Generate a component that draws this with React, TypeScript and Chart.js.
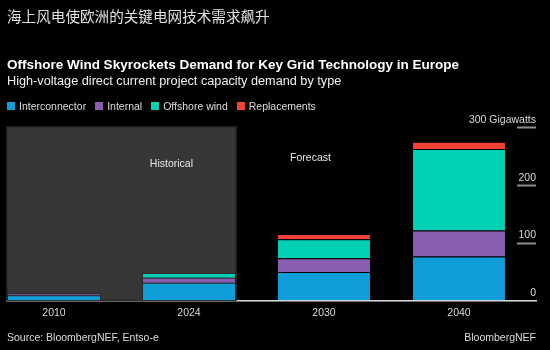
import React, { useEffect, useRef } from "react";
import { Chart, registerables } from "chart.js";
Chart.register(...registerables);

const categories = ["2010", "2024", "2030", "2040"];
const interconnector = [9, 30.5, 49, 76];
const internal = [3.5, 8.5, 24, 45];
const offshoreWind = [0, 8.5, 33, 141];
const replacements = [0, 0, 9, 12.5];
const seriesNames = ["Interconnector", "Internal", "Offshore wind", "Replacements"];
const seriesColors = ["#0f9ed8", "#895db1", "#00d1b4", "#ee4336"];
const seriesValues = [interconnector, internal, offshoreWind, replacements];
const yTickValues = [0, 100, 200, 300];
const yUnitLabel = "300 Gigawatts";
const historicalCount = 2;
const annotationTexts = ["Historical", "Forecast"];
const annotationX = [0.87, 1.9];
const annotationY = [235, 247];

const FONT = "'Liberation Sans', Arial, sans-serif";

const customPlugin = {
  id: "bnefDecor",
  beforeDatasetsDraw(chart: any) {
    const { ctx, chartArea, scales } = chart;
    const y = scales.y;
    const bar = chart.getDatasetMeta(0).data[historicalCount - 1];
    const right = bar.x + bar.width / 2;
    const top = y.getPixelForValue(300);
    const bottom = y.getPixelForValue(0);
    ctx.save();
    ctx.fillStyle = "#363636";
    ctx.fillRect(chartArea.left, top, right - chartArea.left, bottom - top);
    ctx.strokeStyle = "#2a2a2a";
    ctx.lineWidth = 1.5;
    ctx.strokeRect(chartArea.left, top, right - chartArea.left, bottom - top);
    ctx.restore();
  },
  afterDatasetsDraw(chart: any) {
    const { ctx, scales, chartArea } = chart;
    ctx.save();
    ctx.font = `10.5px ${FONT}`;
    ctx.fillStyle = "#e6e6e6";
    ctx.textAlign = "center";
    ctx.textBaseline = "middle";
    annotationTexts.forEach((t, i) => {
      ctx.fillText(t, scales.x.getPixelForValue(annotationX[i]), scales.y.getPixelForValue(annotationY[i]));
    });
    ctx.strokeStyle = "#8c8c8c";
    ctx.lineWidth = 2;
    yTickValues.forEach((v) => {
      if (v === 0) return;
      const py = Math.round(scales.y.getPixelForValue(v)) + 0.5;
      ctx.beginPath();
      ctx.moveTo(chartArea.right - 19, py);
      ctx.lineTo(chartArea.right, py);
      ctx.stroke();
    });
    ctx.restore();
  },
};

export default function App() {
  const ref = useRef<HTMLCanvasElement | null>(null);
  useEffect(() => {
    document.body.style.margin = "0";
    document.body.style.background = "#000";
    const chart = new Chart(ref.current as HTMLCanvasElement, {
      type: "bar",
      data: {
        datasets: seriesNames.map((name, si) => ({
          label: name,
          data: seriesValues[si].map((v, i) => ({ x: i, y: v })),
          backgroundColor: seriesColors[si],
          borderColor: "rgba(0,0,0,0.25)",
          borderWidth: 1,
          categoryPercentage: 1,
          barPercentage: 0.696,
        })),
      },
      options: {
        animation: false,
        responsive: false,
        maintainAspectRatio: false,
        layout: { padding: { top: 127, left: 7, right: 14, bottom: 25 } },
        plugins: {
          legend: { display: false },
          title: { display: false },
          tooltip: { enabled: false },
        },
        scales: {
          x: {
            type: "linear",
            stacked: true,
            offset: false,
            min: -0.3481,
            max: 3.5704,
            z: 1,
            grid: { display: false, drawTicks: false, offset: false },
            border: { display: true, color: "#e0e0e0", width: 1.5 },
            ticks: {
              stepSize: 1,
              includeBounds: false,
              padding: 6,
              color: "#d9d9d9",
              font: { family: FONT, size: 10.5 },
              callback: (v: any) => (Number.isInteger(v) ? categories[v] ?? "" : ""),
              maxRotation: 0,
            },
          },
          y: {
            stacked: true,
            position: "right",
            min: 0,
            max: 300,
            grid: { display: false, drawTicks: false },
            border: { display: false },
            afterBuildTicks: (scale: any) => {
              scale.ticks = yTickValues.map((v) => ({ value: v }));
            },
            ticks: {
              mirror: true,
              padding: 0,
              labelOffset: -7,
              color: "#d9d9d9",
              font: { family: FONT, size: 10.5 },
              callback: (v: any) => (v === 300 ? yUnitLabel : String(v)),
            },
          },
        },
      },
      plugins: [customPlugin],
    } as any);
    return () => chart.destroy();
  }, []);

  const text = (top: number, extra: React.CSSProperties): React.CSSProperties => ({
    position: "absolute",
    top,
    whiteSpace: "nowrap",
    fontFamily: FONT,
    ...extra,
  });

  return (
    <div style={{ position: "relative", width: 550, height: 350, background: "#000", overflow: "hidden" }}>
      <canvas ref={ref} width={550} height={350} style={{ position: "absolute", left: 0, top: 0 }} />
      <div style={text(6, { left: 7, fontSize: 14.6, lineHeight: "20px", color: "#e0e0e0", fontFamily: "'Noto Sans CJK SC', sans-serif" })}>
        海上风电使欧洲的关键电网技术需求飙升
      </div>
      <div style={text(57, { left: 7, fontSize: 13.5, lineHeight: "16px", fontWeight: "bold", color: "#fff" })}>
        Offshore Wind Skyrockets Demand for Key Grid Technology in Europe
      </div>
      <div style={text(74, { left: 7, fontSize: 12.7, lineHeight: "15px", color: "#f0f0f0" })}>
        High-voltage direct current project capacity demand by type
      </div>
      <div style={text(99, { left: 7, fontSize: 10.5, lineHeight: "14px", color: "#dcdcdc", display: "flex", alignItems: "center" })}>
        {seriesNames.map((n, i) => (
          <span key={n} style={{ display: "flex", alignItems: "center", marginRight: 9 }}>
            <span style={{ width: 8, height: 8, background: seriesColors[i], display: "inline-block", marginRight: 4 }} />
            {n}
          </span>
        ))}
      </div>
      <div style={text(330, { left: 7, fontSize: 10.5, lineHeight: "14px", color: "#dcdcdc" })}>
        Source: BloombergNEF, Entso-e
      </div>
      <div style={text(330, { right: 14, fontSize: 10.5, lineHeight: "14px", color: "#dcdcdc" })}>
        BloombergNEF
      </div>
    </div>
  );
}
